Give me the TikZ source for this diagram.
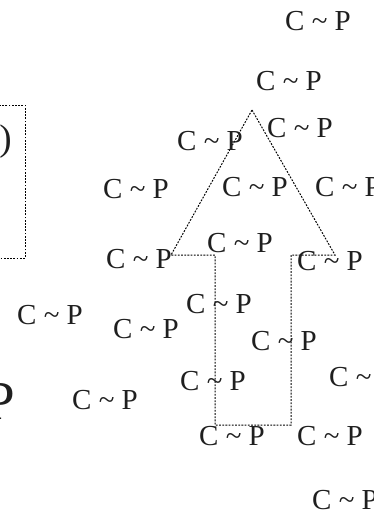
\documentclass[tikz,border=0pt]{standalone}
\usepackage{fontspec}
\setmainfont{Liberation Serif}
\tikzset{
  lbl/.style={inner sep=0pt, anchor=base west, font=\fontsize{29}{30}\selectfont, text=black!88},
  dots/.style={draw=black, line width=1pt, dash pattern=on 1.8pt off 1.4pt}
}
\begin{document}
\begin{tikzpicture}[x=1pt,y=-1pt]
\useasboundingbox (0,0) rectangle (374,517);
\clip (0,0) rectangle (374,517);
% dotted box at the left
\draw[dots] (-80,105) rectangle (25,258);
\node[inner sep=0pt, anchor=base east, font=\fontsize{37}{38}\selectfont, text=black!88] (paren) at (12,150) {)};
% arrow outline
\coordinate (apex) at (252,110);
\coordinate (ls) at (171,255);
\coordinate (rs) at (335,255);
\coordinate (sl) at (215,255);
\coordinate (sr) at (291,255);
\coordinate (bl) at (215,425);
\coordinate (br) at (291,425);
\draw[dots] (apex) -- (rs) -- (sr) -- (br) -- (bl) -- (sl) -- (ls) -- cycle;
% labels
\node[lbl] (l1) at (285,30) {C \textasciitilde{} P};
\node[lbl] (l2) at (256,90) {C \textasciitilde{} P};
\node[lbl] (l3) at (267,137) {C \textasciitilde{} P};
\node[lbl] (l4) at (177,150) {C \textasciitilde{} P};
\node[lbl] (l5) at (222,196) {C \textasciitilde{} P};
\node[lbl] (l6) at (315,196) {C \textasciitilde{} P};
\node[lbl] (l7) at (103,198) {C \textasciitilde{} P};
\node[lbl] (l8) at (106,268) {C \textasciitilde{} P};
\node[lbl] (l9) at (207,252) {C \textasciitilde{} P};
\node[lbl] (l10) at (297,270) {C \textasciitilde{} P};
\node[lbl] (l11) at (17,324) {C \textasciitilde{} P};
\node[lbl] (l12) at (113,338) {C \textasciitilde{} P};
\node[lbl] (l13) at (186,313) {C \textasciitilde{} P};
\node[lbl] (l14) at (251,350) {C \textasciitilde{} P};
\node[lbl] (l15) at (329,386) {C \textasciitilde{} P};
\node[lbl] (l16) at (180,390) {C \textasciitilde{} P};
\node[lbl] (l17) at (72,409) {C \textasciitilde{} P};
\node[lbl] (l18) at (199,445) {C \textasciitilde{} P};
\node[lbl] (l19) at (297,445) {C \textasciitilde{} P};
\node[lbl] (l20) at (312,509) {C \textasciitilde{} P};
\node[inner sep=0pt, anchor=base east, font=\fontsize{55}{56}\selectfont, text=black!88] (bigp) at (15,419) {C \textasciitilde{} P};
\end{tikzpicture}
\end{document}
